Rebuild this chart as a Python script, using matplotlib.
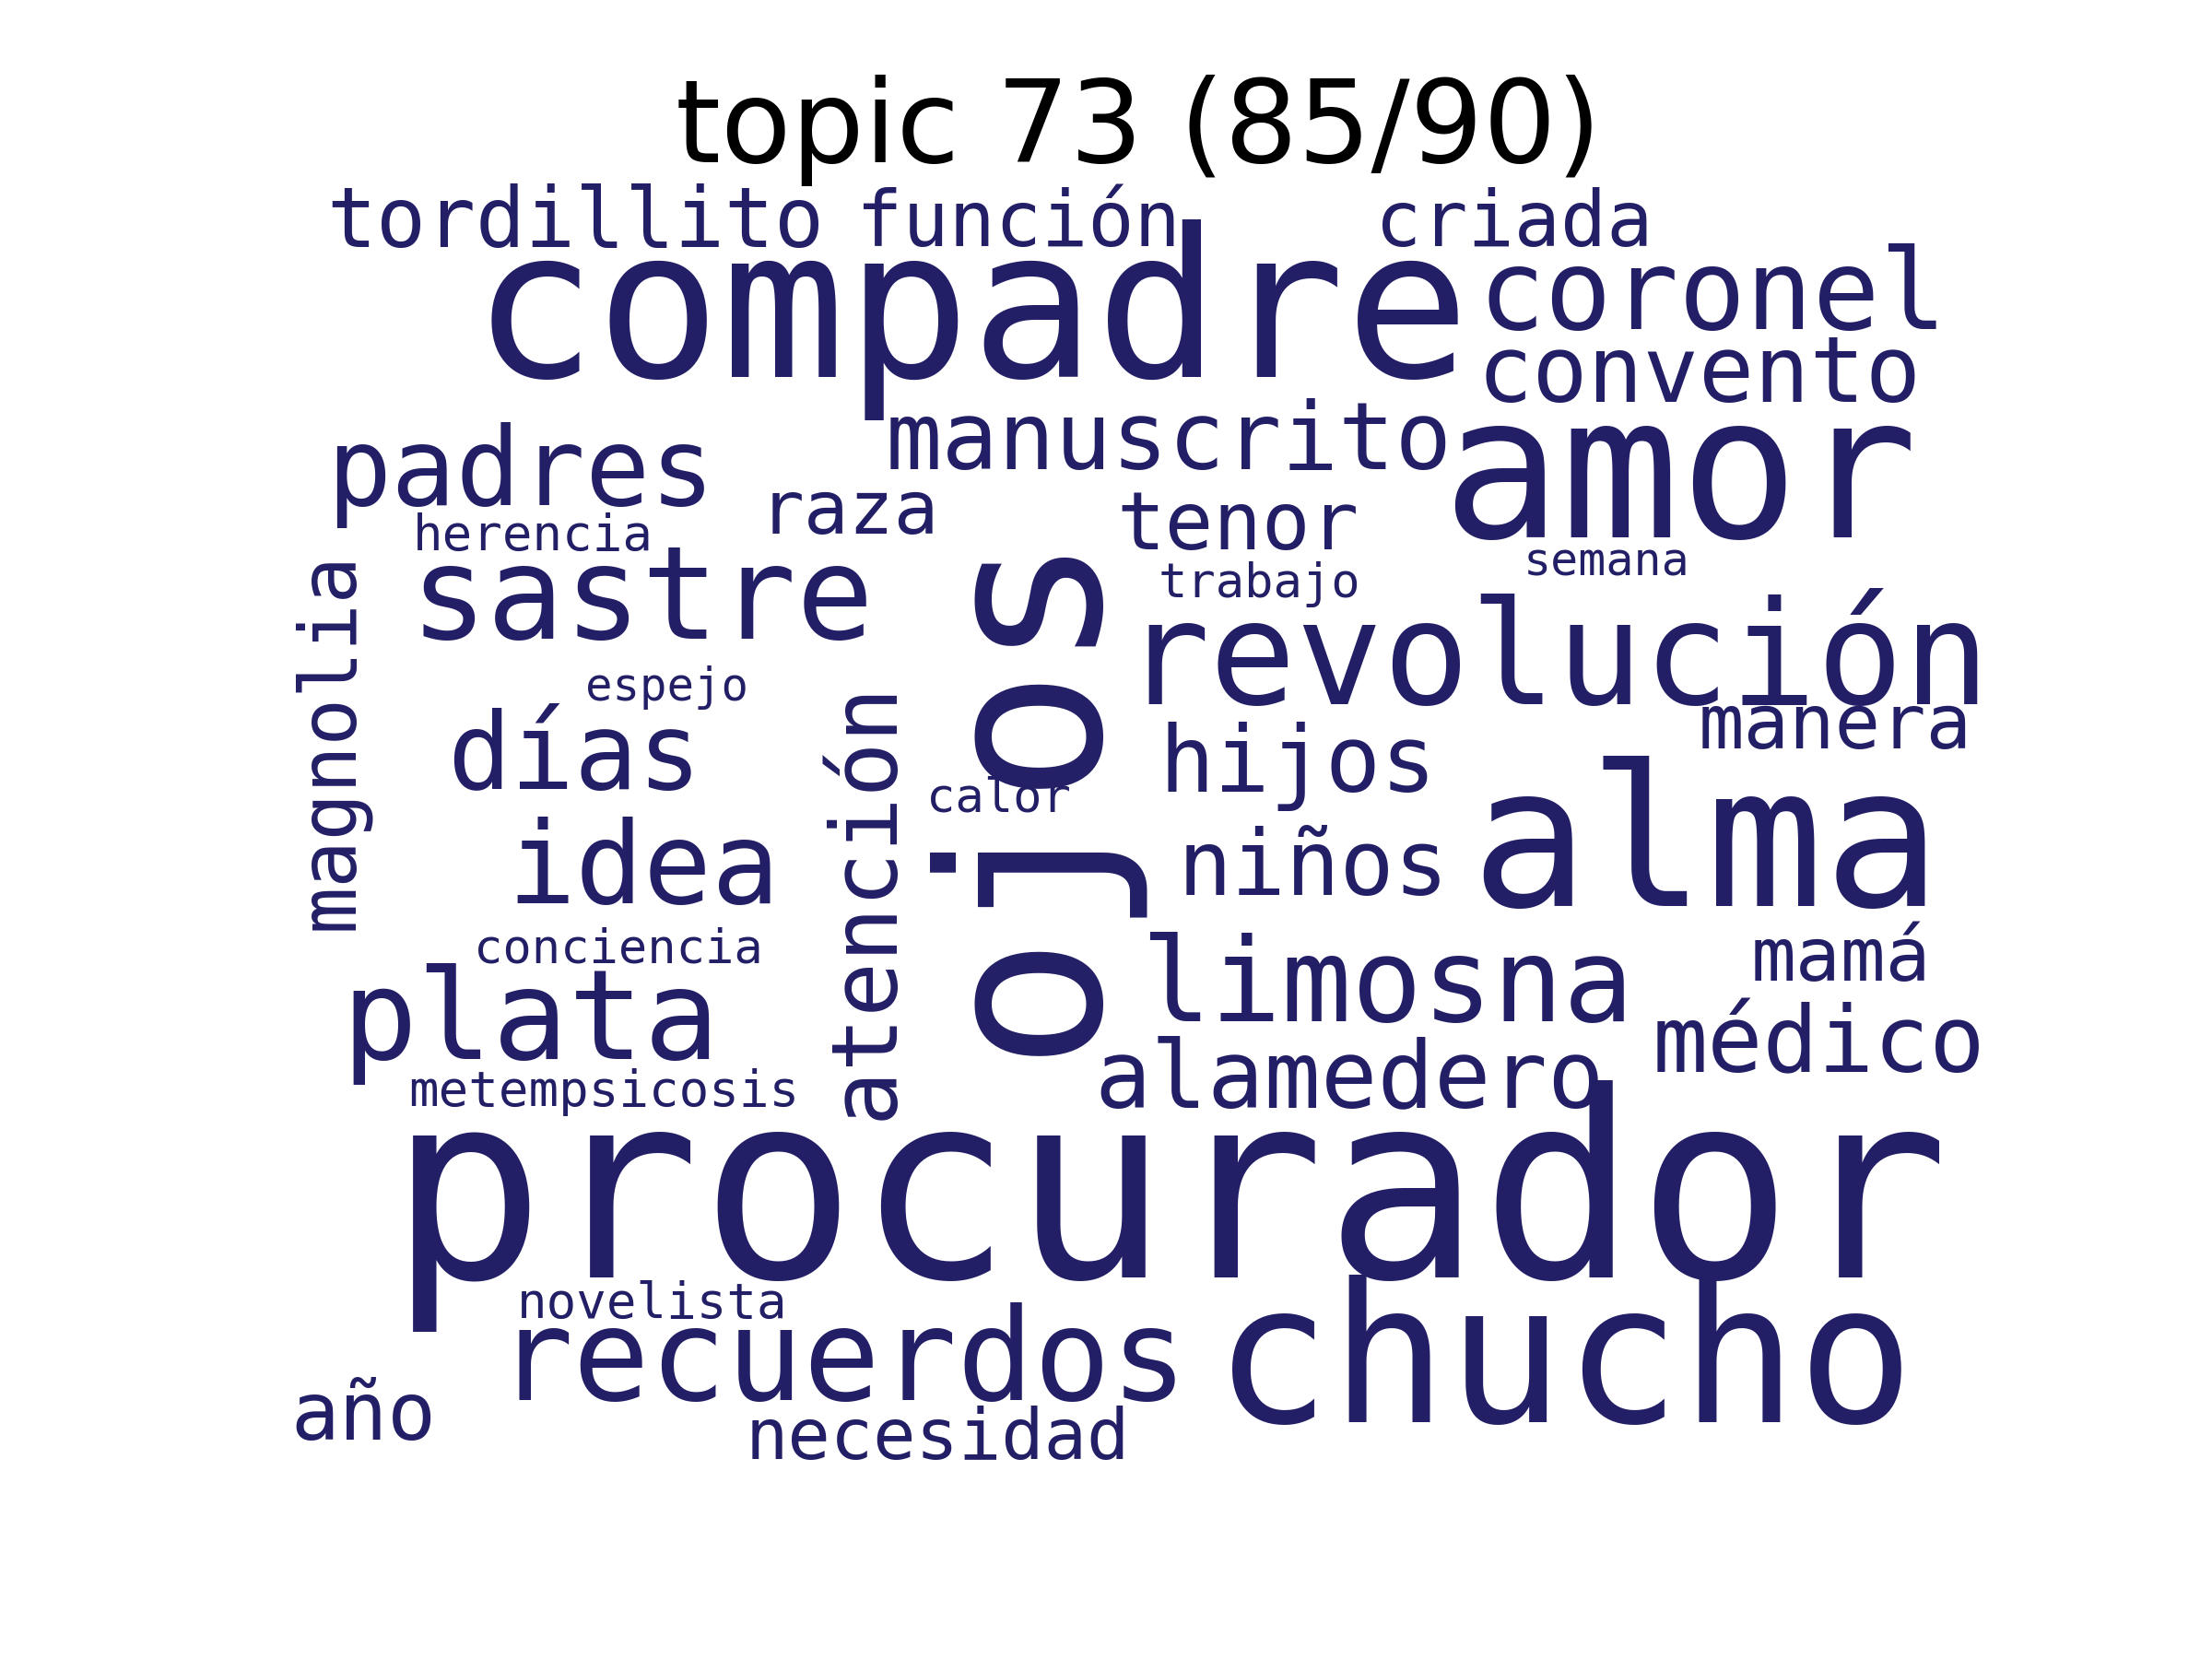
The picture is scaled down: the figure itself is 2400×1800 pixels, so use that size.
"""
Word cloud for topic 73, redrawn with plain matplotlib text.
"""

import matplotlib.pyplot as plt

words = ["procurador", "compadre", "ojos", "amor", "alma", "chucho", "revolución",
         "sastre", "recuerdos", "plata", "limosna", "idea", "coronel", "padres",
         "días", "manuscrito", "alamedero", "convento", "hijos", "médico",
         "atención", "niños", "tordillito", "tenor", "año", "magnolia", "función",
         "criada", "manera", "raza", "mamá", "necesidad", "metempsicosis",
         "herencia", "novelista", "trabajo", "conciencia", "calor", "semana", "espejo"]
sizes = [135, 108, 116, 103, 102, 101, 75, 67, 66.5, 65.5, 61, 59, 58, 56,
         55, 49, 49, 48, 48, 48, 47.5, 47, 43, 42, 42, 41, 40,
         40, 39.5, 39, 39, 37, 26, 26, 26, 25, 25, 25, 24, 23.5]
# layout in 1560x1170 canvas units (x centre, y centre, rotation)
layout = [(825, 850, 0), (685, 225, 0), (722, 555, 90), (1185, 340, 0),
          (1203, 600, 0), (1103, 965, 0), (1098, 468, 0), (453, 425, 0),
          (594, 962, 0), (374, 722, 0), (978, 697, 0), (454, 615, 0),
          (1208, 210, 0), (367, 335, 0), (405, 535, 0), (824, 312, 0),
          (952, 762, 0), (1198, 265, 0), (915, 540, 0), (1283, 738, 0),
          (611, 635, 90), (926, 613, 0), (406, 158, 0), (873, 372, 0),
          (256, 1000, 0), (233, 522, 90), (718, 158, 0), (1068, 158, 0),
          (1294, 513, 0), (599, 362, 0), (1298, 677, 0), (661, 1015, 0),
          (426, 770, 0), (376, 378, 0), (460, 920, 0), (888, 412, 0),
          (436, 670, 0), (704, 563, 0), (1133, 397, 0), (470, 485, 0)]

color = "#231f66"

fig = plt.figure(figsize=(16, 12), dpi=150)
ax = fig.add_axes([0, 0, 1, 1])
ax.set_xlim(0, 1560)
ax.set_ylim(1170, 0)
ax.axis("off")

for word, size, (x, y, rot) in zip(words, sizes, layout):
    ax.text(x, y, word, fontsize=size, family="DejaVu Sans Mono", color=color,
            ha="center", va="center", rotation=rot)

ax.text(803, 92, "topic 73 (85/90)", fontsize=60, family="DejaVu Sans",
        color="black", ha="center", va="center")

fig.savefig("out.png", dpi=150)
